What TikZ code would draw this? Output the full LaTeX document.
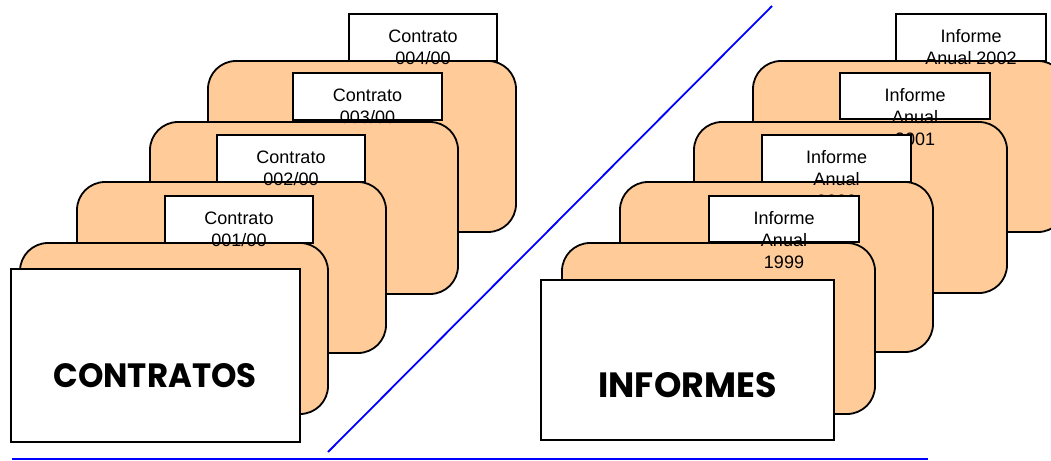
\documentclass[tikz,border=0pt]{standalone}
\usepackage{fontspec}
\setmainfont{Liberation Sans}
\newfontfamily\bigfont{Poppins}
\definecolor{peach}{RGB}{255,204,153}
\begin{document}
\begin{tikzpicture}[x=1pt,y=-1pt,
  card/.style={draw=black,line width=1.8pt,fill=peach,rounded corners=28pt},
  tabbox/.style={draw=black,line width=1.8pt,fill=white},
  bigbox/.style={draw=black,line width=1.8pt,fill=white},
  tabtext/.style={anchor=base,inner sep=0pt,font=\fontsize{18}{21}\selectfont},
  bluel/.style={draw=blue,line width=1.8pt}]
\useasboundingbox (0,0) rectangle (1051,460);
\clip (0,0) rectangle (1051,460);
% ---------- left group: cards back to front ----------
\draw[card] (208,61) rectangle (516,232);
\draw[card] (150,122) rectangle (458,294);
\draw[card] (77,182) rectangle (386,353);
\draw[card] (20,243) rectangle (328,414);
% tabs back to front
\node[tabbox,minimum width=148pt,minimum height=47pt,inner sep=0pt] (c4) at (423,37.5) {};
\node[tabtext] (c4a) at (423,42.5) {Contrato};
\node[tabtext] (c4b) at (423,64.5) {004/00};
\node[tabbox,minimum width=149pt,minimum height=47pt,inner sep=0pt] (c3) at (367.5,96.5) {};
\node[tabtext] (c3a) at (367.5,101.5) {Contrato};
\node[tabtext] (c3b) at (367.5,123.5) {003/00};
\node[tabbox,minimum width=148pt,minimum height=47pt,inner sep=0pt] (c2) at (291,158.5) {};
\node[tabtext] (c2a) at (291,163.5) {Contrato};
\node[tabtext] (c2b) at (291,185.5) {002/00};
\node[tabbox,minimum width=148pt,minimum height=47pt,inner sep=0pt] (c1) at (239,219.5) {};
\node[tabtext] (c1a) at (239,224.5) {Contrato};
\node[tabtext] (c1b) at (239,246.5) {001/00};
% front box
\node[bigbox,minimum width=289pt,minimum height=173pt,inner sep=0pt] (contratos) at (155.5,355.5) {};
\node[inner sep=0pt] (contratosT) at (155,376) {\resizebox{203pt}{24pt}{\bigfont\bfseries CONTRATOS}};
% ---------- right group ----------
\draw[card] (753,61) rectangle (1066,232);
\draw[card] (694,122) rectangle (1007,293);
\draw[card] (620,182) rectangle (933,352);
\draw[card] (562,243) rectangle (875,414);
\node[tabbox,minimum width=150pt,minimum height=47pt,inner sep=0pt] (i4) at (971,37.5) {};
\node[tabtext] (i4a) at (971,42.5) {Informe};
\node[tabtext] (i4b) at (971,64.5) {Anual 2002};
\node[tabbox,minimum width=150pt,minimum height=46pt,inner sep=0pt] (i3) at (915,96) {};
\node[tabtext] (i3a) at (915,101.5) {Informe};
\node[tabtext] (i3b) at (915,123.5) {Anual};
\node[tabtext] (i3c) at (915,145.5) {2001};
\node[tabbox,minimum width=149pt,minimum height=47pt,inner sep=0pt] (i2) at (836.5,158.5) {};
\node[tabtext] (i2a) at (836.5,163.5) {Informe};
\node[tabtext] (i2b) at (836.5,185.5) {Anual};
\node[tabtext] (i2c) at (836.5,207.5) {2000};
\node[tabbox,minimum width=150pt,minimum height=46pt,inner sep=0pt] (i1) at (784,219) {};
\node[tabtext] (i1a) at (784,224.5) {Informe};
\node[tabtext] (i1b) at (784,246.5) {Anual};
\node[tabtext] (i1c) at (784,268.5) {1999};
\node[bigbox,minimum width=293pt,minimum height=160pt,inner sep=0pt] (informes) at (687.5,360) {};
\node[inner sep=0pt] (informesT) at (687.5,385) {\resizebox{178pt}{25pt}{\bigfont\bfseries INFORMES}};
% ---------- blue lines ----------
\coordinate (d1) at (328,452);
\coordinate (d2) at (772,6);
\coordinate (h1) at (12,459);
\coordinate (h2) at (928,459);
\draw[bluel] (d1) -- (d2);
\draw[bluel] (h1) -- (h2);
\end{tikzpicture}
\end{document}
